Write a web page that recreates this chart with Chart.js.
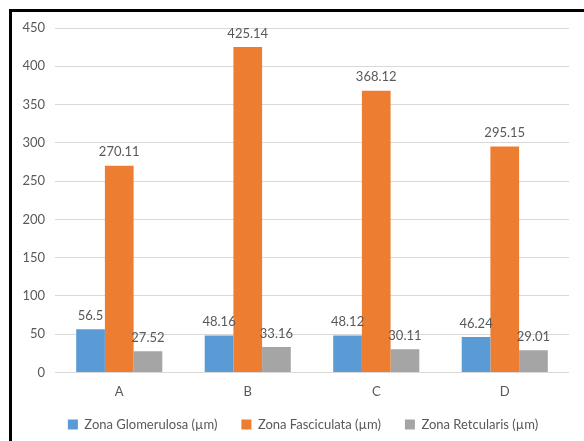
<!DOCTYPE html>
<html><head><meta charset="utf-8">
<script src="https://cdn.jsdelivr.net/npm/chart.js@4.4.0/dist/chart.umd.min.js"></script>
<style>html,body{margin:0;padding:0;background:#fff}#wrap{position:relative;width:584px;height:441px}</style>
</head><body><div id="wrap"><canvas id="c" width="584" height="441"></canvas></div>
<script>
const categories = ["A", "B", "C", "D"];
const glomerulosa = [56.5, 48.16, 48.12, 46.24];
const fasciculata = [270.11, 425.14, 368.12, 295.15];
const reticularis = [27.52, 33.16, 30.11, 29.01];
const seriesNames = ["Zona Glomerulosa (µm)", "Zona Fasciculata (µm)", "Zona Retcularis (µm)"];
const yTicks = [0, 50, 100, 150, 200, 250, 300, 350, 400, 450];

const FONT = "Lato, 'Liberation Sans', sans-serif";
const TXT = "#595959";

const frame = {
  id: 'frame',
  beforeDraw(chart) {
    const c = chart.ctx;
    c.save();
    c.fillStyle = '#fff';
    c.fillRect(0, 0, chart.width, chart.height);
    c.fillStyle = '#000';
    c.fillRect(9, 9, chart.width - 9, 3);
    c.fillRect(9, 9, 3, chart.height - 9);
    c.restore();
  }
};

const legendPlace = {
  id: 'legendPlace',
  afterLayout(chart) {
    const lg = chart.legend;
    if (!lg) return;
    lg.left = 37; lg.right = 569; lg.width = lg.right - lg.left;
    lg.top -= 18; lg.bottom -= 18;
  }
};

const labels = {
  id: 'labels',
  afterDatasetsDraw(chart) {
    const c = chart.ctx;
    c.save();
    c.font = "13px " + FONT;
    c.fillStyle = TXT;
    c.textAlign = 'center';
    c.textBaseline = 'bottom';
    chart.data.datasets.forEach((ds, i) => {
      chart.getDatasetMeta(i).data.forEach((el, j) => {
        c.fillText(String(ds.data[j]), el.x, el.y - 7);
      });
    });
    c.restore();
  }
};

new Chart(document.getElementById('c'), {
  type: 'bar',
  data: {
    labels: categories,
    datasets: [
      {label: seriesNames[0], data: glomerulosa, backgroundColor: '#5b9bd5'},
      {label: seriesNames[1], data: fasciculata, backgroundColor: '#ed7d31'},
      {label: seriesNames[2], data: reticularis, backgroundColor: '#a5a5a5'}
    ]
  },
  options: {
    responsive: false,
    animation: false,
    devicePixelRatio: 1,
    layout: {padding: {left: 0, right: 15, top: 28, bottom: -12}},
    datasets: {bar: {categoryPercentage: 0.67, barPercentage: 1.0}},
    scales: {
      x: {
        grid: {display: false, drawTicks: false},
        border: {display: false},
        ticks: {color: TXT, font: {family: FONT, size: 13}, padding: 12}
      },
      y: {
        min: 0, max: 450,
        afterBuildTicks(s) { s.ticks = yTicks.map(v => ({value: v})); },
        afterFit(s) { s.width = 55; },
        grid: {color: '#d9d9d9', lineWidth: 1, drawTicks: false},
        border: {display: false},
        ticks: {color: TXT, font: {family: FONT, size: 13}, padding: 10}
      }
    },
    plugins: {
      legend: {
        position: 'bottom',
        maxHeight: 41,
        labels: {boxWidth: 10, boxHeight: 10, color: TXT, font: {family: FONT, size: 13}, padding: 24}
      },
      tooltip: {enabled: false}
    }
  },
  plugins: [frame, legendPlace, labels]
});
</script></body></html>
